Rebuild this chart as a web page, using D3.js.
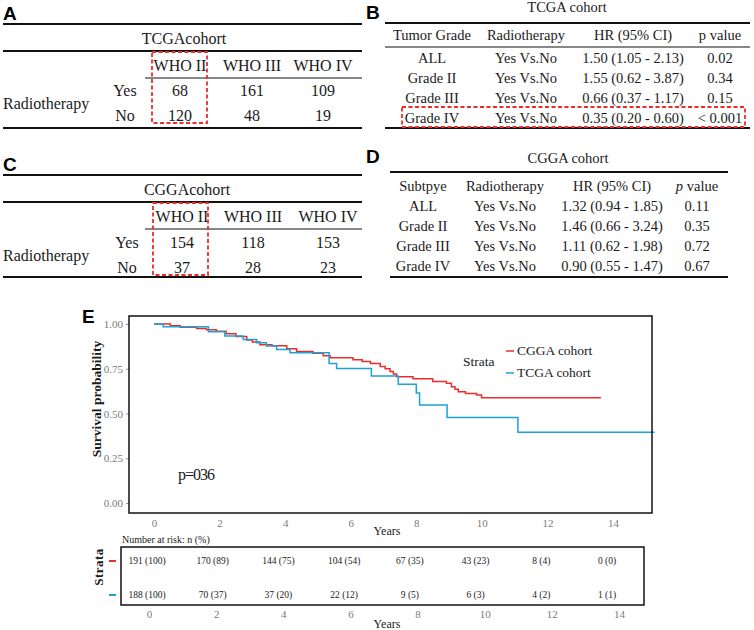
<!DOCTYPE html>
<html>
<head>
<meta charset="utf-8">
<script src="https://cdn.jsdelivr.net/npm/d3@7"></script>
<style>
  body { margin: 0; background: #fff; }
  text { font-family: "Liberation Serif", "Times New Roman", serif; fill: #1a1a1a; }
  .panel { font-family: "Liberation Sans", Arial, sans-serif; font-weight: bold; font-size: 19px; fill: #000; }
  .tick text { fill: #7a7a7a; }
</style>
</head>
<body>
<svg width="754" height="630"></svg>
<script>
// ---- data ----
const whoGrades = ["WHO II", "WHO III", "WHO IV"];
const tcgaYes = [68, 161, 109];
const tcgaNo = [120, 48, 19];
const cggaYes = [154, 118, 153];
const cggaNo = [37, 28, 23];

const hrCols = ["grade", "radio", "hr", "p"];
const hrGrades = ["ALL", "Grade II", "Grade III", "Grade IV"];
const tcgaHR = ["1.50 (1.05 - 2.13)", "1.55 (0.62 - 3.87)", "0.66 (0.37 - 1.17)", "0.35 (0.20 - 0.60)"];
const tcgaP = ["0.02", "0.34", "0.15", "< 0.001"];
const cggaHR = ["1.32 (0.94 - 1.85)", "1.46 (0.66 - 3.24)", "1.11 (0.62 - 1.98)", "0.90 (0.55 - 1.47)"];
const cggaP = ["0.11", "0.35", "0.72", "0.67"];

// KM step points [years, survival]
const cggaCurve = [[0, 1.0], [0.5, 0.99], [0.8, 0.982], [1.3, 0.975], [1.6, 0.968], [1.9, 0.96],
  [2.2, 0.945], [2.5, 0.93], [2.83, 0.91], [3.0, 0.9], [3.23, 0.884], [3.6, 0.878], [4.05, 0.862],
  [4.35, 0.847], [4.85, 0.837], [5.16, 0.822], [5.37, 0.812], [6.07, 0.8], [6.35, 0.79], [6.6, 0.78],
  [6.9, 0.762], [7.05, 0.75], [7.2, 0.735], [7.3, 0.72], [7.4, 0.706], [7.9, 0.694], [8.5, 0.679],
  [8.92, 0.669], [9.07, 0.65], [9.18, 0.636], [9.28, 0.622], [9.5, 0.612], [9.84, 0.603], [9.99, 0.588]];
const cggaEnd = 13.63;
const tcgaCurve = [[0, 1.0], [0.28, 0.985], [1.66, 0.957], [2.16, 0.933], [2.72, 0.914], [3.13, 0.895],
  [3.43, 0.877], [3.74, 0.858], [4.15, 0.84], [5.34, 0.78], [5.57, 0.752], [6.63, 0.71], [7.45, 0.663],
  [8.0, 0.615], [8.1, 0.547], [8.94, 0.477], [11.1, 0.395]];
const tcgaEnd = 15.27;

const yearTicks = [0, 2, 4, 6, 8, 10, 12, 14];
const survTicks = [0, 0.25, 0.5, 0.75, 1];
const cggaRisk = ["191 (100)", "170 (89)", "144 (75)", "104 (54)", "67 (35)", "43 (23)", "8 (4)", "0 (0)"];
const tcgaRisk = ["188 (100)", "70 (37)", "37 (20)", "22 (12)", "9 (5)", "6 (3)", "4 (2)", "1 (1)"];

const red = "#ee2b2b";
const blue = "#1ba3d8";

const svg = d3.select("svg");

// ---- count tables (A, C) ----
function countTable(cfg) {
  const g = svg.append("g");
  const colX = d3.scaleOrdinal().domain(whoGrades).range(cfg.cols);
  g.append("text").attr("class", "panel").attr("x", 3).attr("y", cfg.top - 4).text(cfg.label);
  const lines = [
    [3, cfg.top, 2], [3, cfg.top + 27, 2], [145, cfg.top + 54, 1], [3, cfg.bottom, 2]
  ];
  lines.forEach(l => g.append("line").attr("x1", l[0]).attr("x2", 362)
    .attr("y1", l[1]).attr("y2", l[1]).attr("stroke", "#111").attr("stroke-width", l[2]));
  g.append("text").attr("x", cfg.titleX).attr("y", cfg.top + 20).attr("text-anchor", "middle")
    .style("font-size", "16px").text(cfg.title);
  g.selectAll("text.hd").data(whoGrades).join("text").attr("class", "hd")
    .attr("x", d => colX(d)).attr("y", cfg.top + 47).attr("text-anchor", "middle")
    .style("font-size", "16px").text(d => d);
  [[cfg.yes, "Yes", cfg.rowY[0]], [cfg.no, "No", cfg.rowY[1]]].forEach(r => {
    g.append("text").attr("x", cfg.ynX).attr("y", r[2]).attr("text-anchor", "middle")
      .style("font-size", "16px").text(r[1]);
    g.selectAll(null).data(r[0]).join("text")
      .attr("x", (d, i) => colX(whoGrades[i])).attr("y", r[2]).attr("text-anchor", "middle")
      .style("font-size", "16px").text(d => d);
  });
  g.append("text").attr("x", 3).attr("y", (cfg.rowY[0] + cfg.rowY[1]) / 2)
    .style("font-size", "16px").text("Radiotherapy");
  g.append("rect").attr("x", cfg.box[0]).attr("y", cfg.box[1])
    .attr("width", cfg.box[2] - cfg.box[0]).attr("height", cfg.box[3] - cfg.box[1])
    .attr("fill", "none").attr("stroke", red).attr("stroke-width", 1.8).attr("stroke-dasharray", "4,2.5");
}

countTable({ label: "A", title: "TCGAcohort", titleX: 184, top: 24, bottom: 128,
  cols: [180, 252, 323], rowY: [96, 121], ynX: 125, yes: tcgaYes, no: tcgaNo,
  box: [152, 52, 207, 123] });
countTable({ label: "C", title: "CGGAcohort", titleX: 187, top: 175, bottom: 277,
  cols: [182, 253, 328], rowY: [248, 273], ynX: 127, yes: cggaYes, no: cggaNo,
  box: [153, 203, 208, 275] });

// ---- HR tables (B, D) ----
function hrTable(cfg) {
  const g = svg.append("g");
  const colX = d3.scaleOrdinal().domain(hrCols).range(cfg.cols);
  const rowY = d3.scalePoint().domain(hrGrades).range([cfg.firstRow, cfg.firstRow + 60]);
  g.append("text").attr("class", "panel").attr("x", 366).attr("y", cfg.labelY).text(cfg.label);
  g.append("text").attr("x", cfg.titleX).attr("y", cfg.titleY).attr("text-anchor", "middle")
    .style("font-size", "14.5px").text(cfg.title);
  [[cfg.top, 2], [cfg.bottom, 2]].concat(cfg.headLine ? [[cfg.headLine, 1]] : []).forEach(l =>
    g.append("line").attr("x1", cfg.x0).attr("x2", cfg.x1).attr("y1", l[0]).attr("y2", l[0])
      .attr("stroke", "#111").attr("stroke-width", l[1]));
  cfg.headers.forEach((h, i) => {
    const t = g.append("text").attr("x", colX(hrCols[i])).attr("y", cfg.headY)
      .attr("text-anchor", "middle").style("font-size", "14.5px");
    if (h === "p value" && cfg.italicP) {
      t.append("tspan").style("font-style", "italic").text("p");
      t.append("tspan").text(" value");
    } else t.text(h);
  });
  hrGrades.forEach((gr, i) => {
    [gr, "Yes Vs.No", cfg.hr[i], cfg.p[i]].forEach((v, j) =>
      g.append("text").attr("x", colX(hrCols[j])).attr("y", rowY(gr)).attr("text-anchor", "middle")
        .style("font-size", "14.5px").text(v));
  });
  if (cfg.box) g.append("rect").attr("x", cfg.box[0]).attr("y", cfg.box[1])
    .attr("width", cfg.box[2] - cfg.box[0]).attr("height", cfg.box[3] - cfg.box[1])
    .attr("fill", "none").attr("stroke", red).attr("stroke-width", 1.8).attr("stroke-dasharray", "4,2.5");
}

hrTable({ label: "B", labelY: 19, title: "TCGA cohort", titleX: 567, titleY: 12,
  top: 23, headLine: 47, bottom: 128, x0: 385, x1: 750, headY: 40, firstRow: 63,
  cols: [432, 526, 633, 720], headers: ["Tumor Grade", "Radiotherapy", "HR (95% CI)", "p value"],
  hr: tcgaHR, p: tcgaP, box: [402, 107, 745, 127] });
hrTable({ label: "D", labelY: 163, title: "CGGA cohort", titleX: 568, titleY: 163,
  top: 172, bottom: 277, x0: 390, x1: 728, headY: 191, firstRow: 211, italicP: true,
  cols: [423, 505, 612, 697], headers: ["Subtpye", "Radiotherapy", "HR (95% CI)", "p value"],
  hr: cggaHR, p: cggaP });

// ---- KM plot (E) ----
const frame = { left: 129, right: 652, top: 316, bottom: 513 };
const x = d3.scaleLinear().domain([0, 14]).range([154, 613]);
const y = d3.scaleLinear().domain([0, 1]).range([503, 324]);

svg.append("text").attr("class", "panel").attr("x", 82).attr("y", 323).text("E");

const xAxisG = svg.append("g").attr("transform", `translate(0,${frame.bottom})`)
  .call(d3.axisBottom(x).tickValues(yearTicks).tickSize(0).tickPadding(6));
const yAxisG = svg.append("g").attr("transform", `translate(${frame.left},0)`)
  .call(d3.axisLeft(y).tickValues(survTicks).tickFormat(d3.format(".2f")).tickSize(3).tickPadding(3));
[xAxisG, yAxisG].forEach(a => {
  a.select(".domain").remove();
  a.selectAll("text").style("font-family", "Liberation Serif").style("font-size", "11px");
  a.selectAll(".tick line").attr("stroke", "#999");
});

const line = d3.line().x(d => x(d[0])).y(d => y(d[1])).curve(d3.curveStepAfter);
[[cggaCurve, cggaEnd, red], [tcgaCurve, tcgaEnd, blue]].forEach(c => {
  const pts = c[0].concat([[c[1], c[0][c[0].length - 1][1]]]);
  svg.append("path").datum(pts).attr("d", line).attr("fill", "none")
    .attr("stroke", c[2]).attr("stroke-width", 1.5);
});

svg.append("rect").attr("x", frame.left).attr("y", frame.top)
  .attr("width", frame.right - frame.left).attr("height", frame.bottom - frame.top)
  .attr("fill", "none").attr("stroke", "#111").attr("stroke-width", 1.5);

svg.append("text").attr("transform", "translate(101,399) rotate(-90)").attr("text-anchor", "middle")
  .style("font-size", "13.5px").style("font-weight", "bold").text("Survival probability");
svg.append("text").attr("x", 387).attr("y", 535).attr("text-anchor", "middle")
  .style("font-size", "12px").text("Years");
svg.append("text").attr("x", 178).attr("y", 480).style("font-size", "16px")
  .style("letter-spacing", "-1px").text("p=036");

// legend
svg.append("text").attr("x", 463).attr("y", 366).style("font-size", "13.5px").text("Strata");
[["CGGA cohort", red, 355], ["TCGA cohort", blue, 377]].forEach(l => {
  svg.append("line").attr("x1", 506).attr("x2", 514).attr("y1", l[2] - 4).attr("y2", l[2] - 4)
    .attr("stroke", l[1]).attr("stroke-width", 1.5);
  svg.append("text").attr("x", 517).attr("y", l[2]).style("font-size", "13.5px").text(l[0]);
});

// ---- risk table ----
const xr = d3.scaleLinear().domain([0, 14]).range([147, 607]);
const xb = d3.scaleLinear().domain([0, 14]).range([149, 619]);
const risk = { left: 121, right: 644, top: 547, bottom: 605 };

svg.append("text").attr("x", 122).attr("y", 543).style("font-size", "10px").text("Number at risk: n (%)");
svg.append("rect").attr("x", risk.left).attr("y", risk.top)
  .attr("width", risk.right - risk.left).attr("height", risk.bottom - risk.top)
  .attr("fill", "none").attr("stroke", "#111").attr("stroke-width", 1.5);
[[cggaRisk, 564, red], [tcgaRisk, 598, blue]].forEach(r => {
  svg.selectAll(null).data(r[0]).join("text")
    .attr("x", (d, i) => xr(yearTicks[i])).attr("y", r[1]).attr("text-anchor", "middle")
    .style("font-size", "9.5px").text(d => d);
  svg.append("line").attr("x1", 109).attr("x2", 116).attr("y1", r[1] - 3).attr("y2", r[1] - 3)
    .attr("stroke", r[2]).attr("stroke-width", 2);
});
svg.append("text").attr("transform", "translate(103,567) rotate(-90)").attr("text-anchor", "middle")
  .style("font-size", "13px").style("font-weight", "bold").style("letter-spacing", "0.5px").text("Strata");

const rAxisG = svg.append("g").attr("transform", `translate(0,${risk.bottom})`)
  .call(d3.axisBottom(xb).tickValues(yearTicks).tickSize(0).tickPadding(5));
rAxisG.select(".domain").remove();
rAxisG.selectAll("text").style("font-family", "Liberation Serif").style("font-size", "11px");
svg.append("text").attr("x", 387).attr("y", 628).attr("text-anchor", "middle")
  .style("font-size", "12px").text("Years");
</script>
</body>
</html>
